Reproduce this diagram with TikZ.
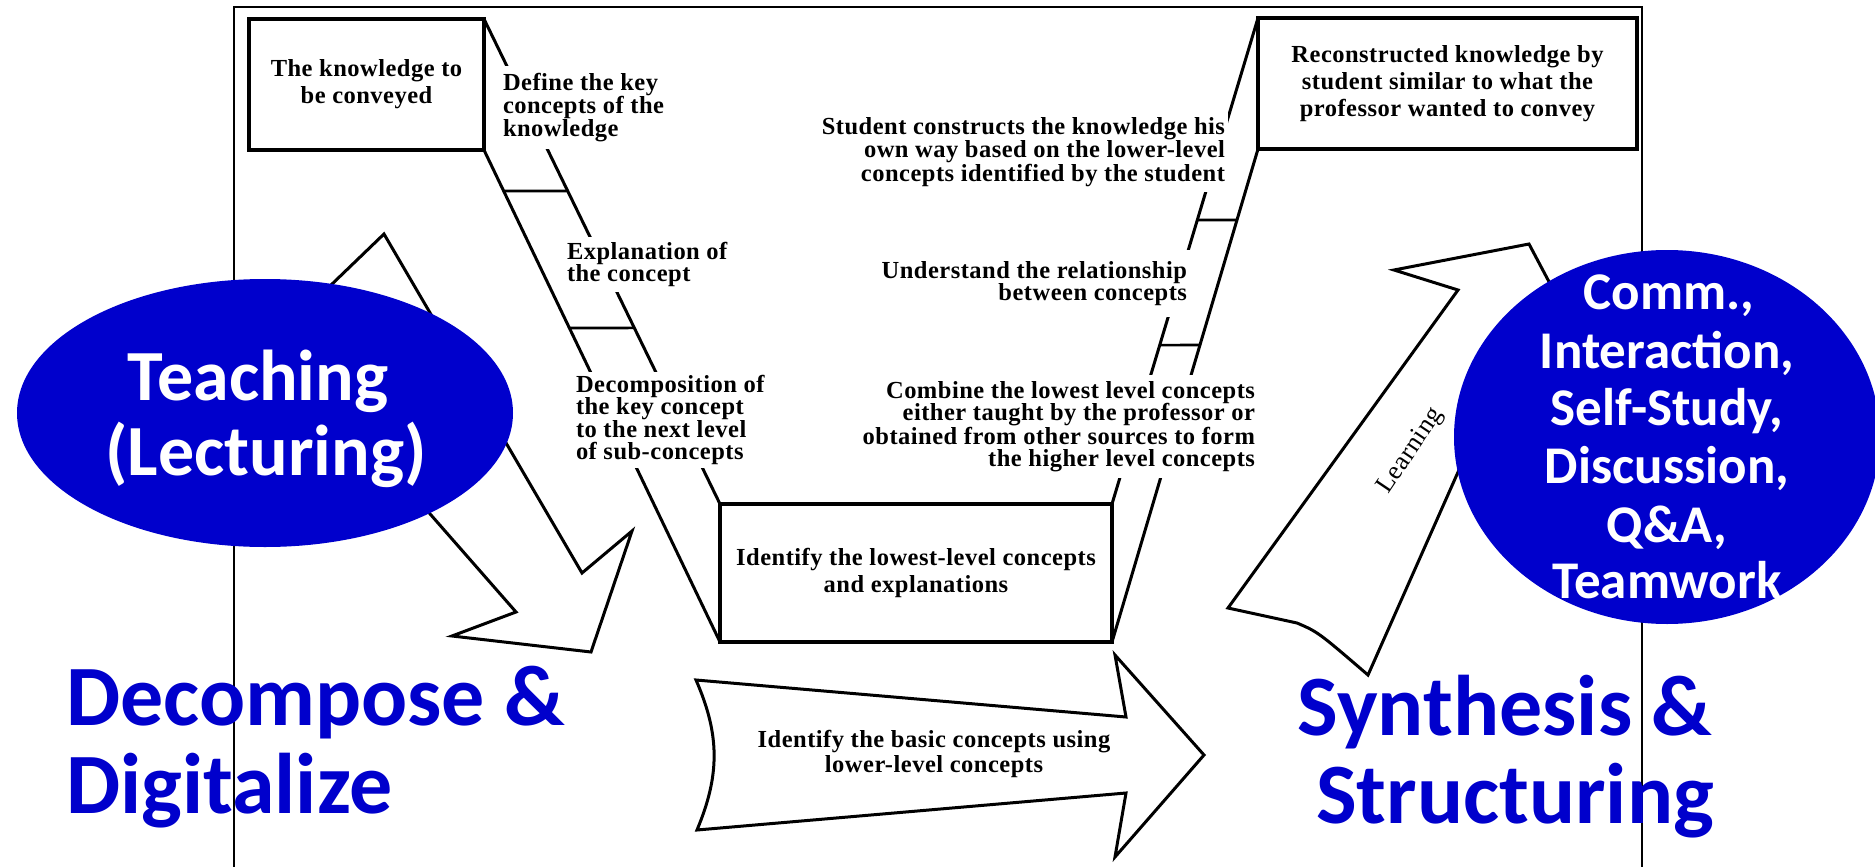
\documentclass[tikz,border=0pt]{standalone}
\usepackage{fontspec}
\setmainfont{Liberation Serif}[LetterSpace=2]
\newfontfamily\carl{Carlito}
\usetikzlibrary{shapes.geometric,calc}
\definecolor{dblue}{RGB}{0,0,204}
\begin{document}
\begin{tikzpicture}[x=1pt,y=-1pt,
  every node/.style={outer sep=0pt},
  kbox/.style={draw, line width=3.2pt, fill=white, inner sep=0pt, align=center,
    font=\fontsize{24.5}{27}\selectfont\bfseries},
  lbl/.style={fill=white, inner xsep=3pt, font=\fontsize{24.5}{22.5}\selectfont\bfseries},
  vline/.style={line width=3pt},
  tickline/.style={line width=2.6pt},
  bigarrow/.style={draw, line width=3pt, fill=white, line join=miter},
  blob/.style={ellipse, fill=dblue, inner sep=0pt},
  wtxt/.style={text=white, inner sep=0pt, anchor=base},
  btxt/.style={text=dblue, inner sep=0pt, anchor=base, font=\carl\bfseries\fontsize{86}{86}\selectfont},
]
\fill[white] (0,0) rectangle (1875,867);
\useasboundingbox (0,0) rectangle (1875,867);

% frame
\draw[line width=2pt] (234,867) -- (234,7) -- (1642,7) -- (1642,867);

% big arrows
\draw[bigarrow] (384,234) -- (582,573) -- (632,531) -- (591,652) -- (452,636) -- (516,612) -- (431,515) -- (276,338) -- cycle;
\draw[bigarrow] (696,680) -- (1126,717) -- (1115,655) -- (1204,755) -- (1115,857) -- (1126,793) -- (697,830)
  .. controls (720,775) and (720,735) .. (696,680) -- cycle;
\draw[bigarrow] (1228,608) -- (1297,623) .. controls (1318,632) .. (1368,675) -- (1490,400) -- (1583,346)
  -- (1529,244) -- (1394,270) -- (1458,290) -- cycle;
\node[font=\fontsize{24.5}{25}\selectfont\bfseries, align=center, inner sep=0pt] (basic) at (934,753.5)
  {Identify the basic concepts using\\lower-level concepts};
\node[rotate=56, font=\fontsize{26}{26}\selectfont, inner sep=0pt] (learn) at (1411,451) {Learning};

% boxes
\node[kbox, minimum width=235pt, minimum height=131pt] (know) at (366.5,84.5) {The knowledge to\\be conveyed};
\node[kbox, line width=3.8pt, minimum width=379pt, minimum height=131pt] (recon) at (1447.5,83.5)
  {Reconstructed knowledge by\\student similar to what the\\professor wanted to convey};
\node[kbox, minimum width=392pt, minimum height=138pt] (lowest) at (916,573)
  {Identify the lowest-level concepts\\and explanations};

% V lines
\draw[vline] (know.north east) -- (lowest.north west);
\draw[vline] (know.south east) -- (lowest.south west);
\draw[vline] (lowest.north east) -- (recon.north west);
\draw[vline] (lowest.south east) -- (recon.south west);

% ticks
\draw[tickline] ($(know.south east)!0.0833!(lowest.south west)$) -- ($(know.north east)!0.3546!(lowest.north west)$);
\draw[tickline] ($(know.south east)!0.3618!(lowest.south west)$) -- ($(know.north east)!0.637!(lowest.north west)$);
\draw[tickline] ($(lowest.north east)!0.5844!(recon.north west)$) -- ($(lowest.south east)!0.856!(recon.south west)$);
\draw[tickline] ($(lowest.north east)!0.327!(recon.north west)$) -- ($(lowest.south east)!0.6024!(recon.south west)$);

% step labels
\node[lbl, anchor=north west, inner ysep=7pt, align=left] (def) at (500,66)
  {Define the key\\concepts of the\\knowledge};
\node[lbl, anchor=north west, inner ysep=5pt, align=left] (expl) at (564,237)
  {Explanation of\\the concept};
\node[lbl, anchor=north west, inner ysep=3pt, align=left] (decomp) at (573,372)
  {Decomposition of\\the key concept\\to the next level\\of sub-concepts};
\node[lbl, anchor=north east, inner ysep=6pt, align=right] (constr) at (1228,112)
  {Student constructs the knowledge his\\own way based on the lower-level\\concepts identified by the student};
\node[lbl, anchor=north east, inner ysep=11pt, align=right] (under) at (1190,250)
  {Understand the relationship\\between concepts};
\node[lbl, anchor=north east, inner ysep=6pt, align=right] (comb) at (1258,375)
  {Combine the lowest level concepts\\either taught by the professor or\\obtained from other sources to form\\the higher level concepts};

% ellipses
\node[blob, minimum width=496pt, minimum height=268pt] (teach) at (265,413) {};
\node[wtxt, font=\carl\bfseries\fontsize{72}{72}\selectfont] (teach1) at (258,400) {Teaching};
\node[wtxt, font=\carl\bfseries\fontsize{72}{72}\selectfont] (teach2) at (266,475) {(Lecturing)};

\node[blob, minimum width=426pt, minimum height=374pt] (comm) at (1667,437) {};
\begin{scope}[every node/.append style={wtxt, font=\carl\bfseries\fontsize{53}{53}\selectfont}]
\node (c1) at (1669,309) {Comm.,};
\node (c2) at (1667,368) {Interaction,};
\node (c3) at (1667,425) {Self-Study,};
\node (c4) at (1667,483) {Discussion,};
\node (c5) at (1667,542) {Q\&A,};
\node (c6) at (1667,598) {Teamwork};
\end{scope}

% big blue captions
\node[btxt, anchor=base west] (dec1) at (66,725) {Decompose \&};
\node[btxt, anchor=base west] (dec2) at (66,813) {Digitalize};
\node[btxt] (syn1) at (1505,735) {Synthesis \&};
\node[btxt] (syn2) at (1515,823) {Structuring};
\end{tikzpicture}
\end{document}
